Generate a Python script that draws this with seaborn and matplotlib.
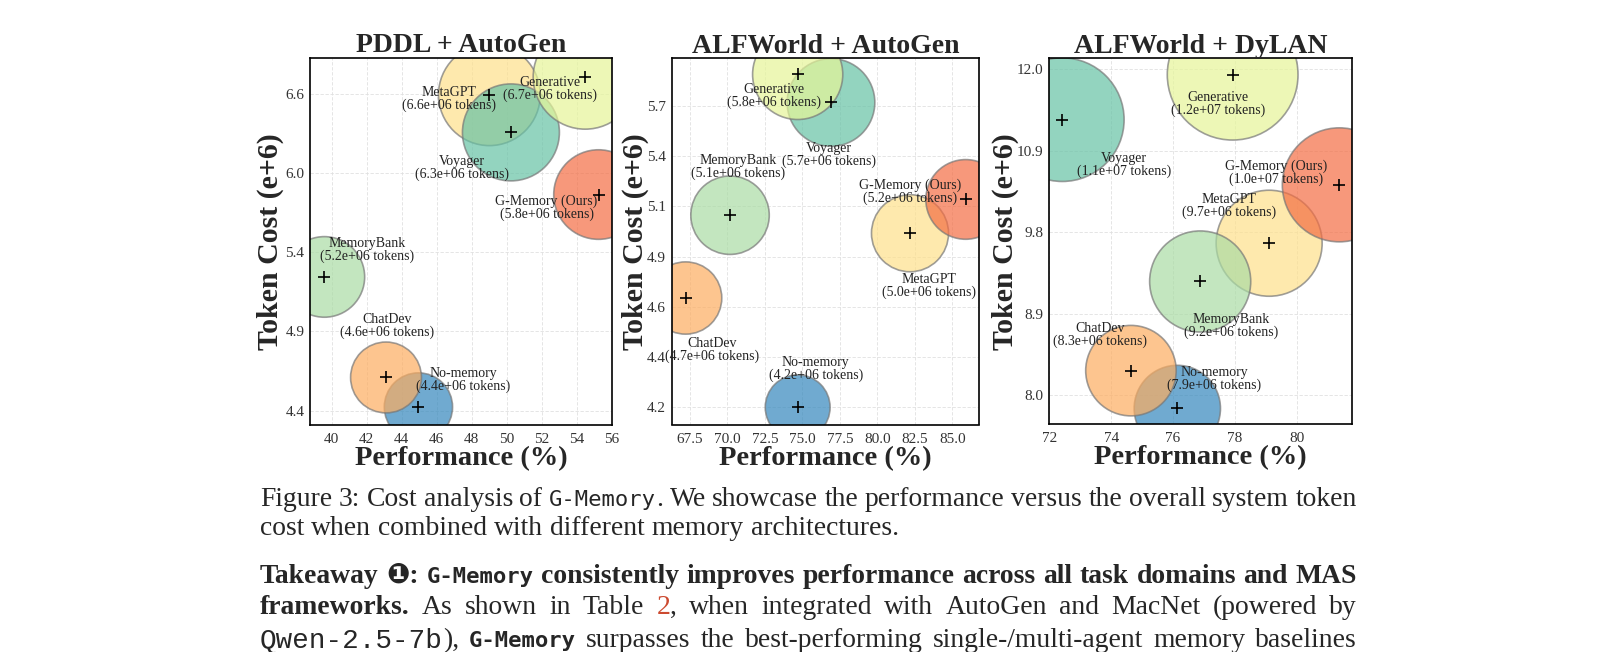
import numpy as np
import pandas as pd
import seaborn as sns
import matplotlib
matplotlib.use("Agg")
from matplotlib import pyplot as plt
from matplotlib.ticker import MultipleLocator, NullLocator, NullFormatter
from matplotlib.transforms import IdentityTransform

# ---- data ---------------------------------------------------------------
methods = ["No-memory", "ChatDev", "MetaGPT", "MemoryBank", "Voyager", "Generative", "G-Memory (Ours)"]

panel_titles = ["PDDL + AutoGen", "ALFWorld + AutoGen", "ALFWorld + DyLAN"]

# performance (%) and token cost (e+6), same order as methods
pddl_autogen_perf = [44.95, 43.10, 49.00, 39.58, 50.23, 54.47, 55.23]
pddl_autogen_cost = [4.42, 4.59, 6.59, 5.22, 6.28, 6.74, 5.80]

alfworld_autogen_perf = [74.68, 67.21, 82.17, 70.17, 76.90, 74.68, 85.88]
alfworld_autogen_cost = [4.20, 4.68, 4.99, 5.08, 5.68, 5.84, 5.16]

alfworld_dylan_perf = [76.14, 74.64, 79.11, 76.88, 72.42, 77.93, 81.38]
alfworld_dylan_cost = [7.89, 8.27, 9.69, 9.24, 11.30, 11.95, 10.42]

# y ticks are log spaced between these values (first, last, count)
ytick_ranges = [(4.4, 6.6, 5), (4.2, 5.66, 7), (8.02, 12.03, 5)]
xtick_steps = [2, 2.5, 2]

caption_lines = [
    [("Figure 3: Cost analysis of ", "rm"), ("G-Memory", "tt"),
     (". We showcase the performance versus the overall system token", "rm")],
    [("cost when combined with different memory architectures.", "rm")],
    [("Takeaway \u2776: ", "bf"), ("G-Memory", "ttbf"),
     (" consistently improves performance across all task domains and MAS", "bf")],
    [("frameworks.", "bf"), ("  As shown in Table ", "rm"), ("2", "ref"),
     (", when integrated with AutoGen and MacNet (powered by", "rm")],
    [("Qwen-2.5-7b", "tt2"), ("), ", "rm"), ("G-Memory", "ttbf"),
     (" surpasses the best-performing single-/multi-agent memory baselines", "rm")],
]

# ---- layout / style -----------------------------------------------------
W, H = 1618, 652
axes_px = [(310, 58, 612, 424.5), (671.7, 58.3, 979, 424.5), (1048.7, 58.3, 1352.3, 424)]
xlims = [(38.76, 56.0), (66.28, 86.77), (71.98, 81.80)]
ylims = [(4.322, 6.907), (4.129, 5.934), (7.739, 12.196)]
bubble_px_per_unit = [7.72, 7.72, 5.47]
ylabel_x = [-0.132, -0.119, -0.144]

# label offsets from the point, in pixels (dx, dy downwards), order = methods
label_offsets = [
    [(45, -27), (1, -51), (-40, 4), (43, -27), (-49, 36), (-35, 12), (-52, 13)],
    [(18, -38), (26, 52), (19, 53), (8, -48), (-2, 53), (-24, 22), (-56, -8)],
    [(37, -29), (-31, -36), (-40, -37), (31, 45), (62, 45), (-15, 29), (-63, -12)],
]

spectral = sns.color_palette("Spectral", 9)
method_colors = dict(zip(methods, [spectral[i] for i in [8, 2, 3, 6, 7, 5, 1]]))

sns.set_style("white")
plt.rcParams["font.family"] = ["Liberation Serif", "DejaVu Sans"]

fig = plt.figure(figsize=(W / 100, H / 100), dpi=100)

panels = [
    (pddl_autogen_perf, pddl_autogen_cost),
    (alfworld_autogen_perf, alfworld_autogen_cost),
    (alfworld_dylan_perf, alfworld_dylan_cost),
]

for i, (perf, cost) in enumerate(panels):
    l, t, r, b = axes_px[i]
    ax = fig.add_axes([l / W, 1 - b / H, (r - l) / W, (b - t) / H])
    df = pd.DataFrame({"method": methods, "perf": perf, "cost": cost})
    sizes = {m: (2 * bubble_px_per_unit[i] * c * 0.72) ** 2 for m, c in zip(methods, cost)}

    sns.scatterplot(data=df, x="perf", y="cost", hue="method", palette=method_colors,
                    size="method", sizes=sizes, alpha=0.7, edgecolor="#777777",
                    linewidth=1.2, legend=False, ax=ax, zorder=2)
    sns.scatterplot(data=df, x="perf", y="cost", marker="+", color="black", s=70,
                    linewidth=1.2, legend=False, ax=ax, zorder=4)

    for j, row in df.iterrows():
        dx, dy = label_offsets[i][j]
        ax.annotate(f"{row['method']}\n({row['cost'] * 1e6:.1e} tokens)",
                    (row["perf"], row["cost"]), xytext=(dx, -dy), textcoords="offset pixels",
                    ha="center", va="center", fontsize=10, linespacing=0.95, color="#222222",
                    zorder=5)

    ax.set_yscale("log")
    lo, hi, n = ytick_ranges[i]
    yt = np.geomspace(lo, hi, n)
    ax.set_yticks(yt, labels=[f"{v:.1f}" for v in yt])
    ax.yaxis.set_minor_locator(NullLocator())
    ax.yaxis.set_minor_formatter(NullFormatter())
    ax.xaxis.set_major_locator(MultipleLocator(xtick_steps[i]))
    ax.set_xlim(*xlims[i])
    ax.set_ylim(*ylims[i])

    ax.grid(True, color="#e0e0e0", linestyle=(0, (4, 2)), linewidth=0.6)
    ax.set_axisbelow(True)
    ax.tick_params(axis="both", length=0, labelsize=11, labelcolor="#333333")
    ax.tick_params(axis="x", pad=6)
    ax.tick_params(axis="y", pad=4)
    for sp in ax.spines.values():
        sp.set_color("black")
        sp.set_linewidth(1.2)

    ax.set_title(panel_titles[i], fontsize=20, fontweight="bold", pad=4)
    ax.set_xlabel("Performance (%)", fontsize=20.5, fontweight="bold", va="center")
    ax.set_ylabel("Token Cost (e+6)", fontsize=21.5, fontweight="bold", va="center")
    ax.xaxis.set_label_coords(0.5, -0.092)
    ax.yaxis.set_label_coords(ylabel_x[i], 0.5)

# ---- caption text, laid out word by word --------------------------------
body_pt = 19.9
styles = {
    "rm": dict(family=["Liberation Serif", "DejaVu Sans"], size=body_pt),
    "bf": dict(family=["Liberation Serif", "DejaVu Sans"], size=body_pt, weight="bold"),
    "ref": dict(family=["Liberation Serif"], size=body_pt, color="#cc4a30"),
    "tt": dict(family=["DejaVu Sans Mono"], size=16),
    "ttbf": dict(family=["DejaVu Sans Mono"], size=16, weight="bold"),
    "tt2": dict(family=["Liberation Mono"], size=body_pt),
}
baselines = [506, 535, 583, 614, 647]
justify = [True, False, True, True, True]
x_left, x_right = 260, 1357

renderer = fig.canvas.get_renderer()


def place_line(pieces, base, just):
    words, cur = [], []
    for text, st in pieces:
        parts = text.split(" ")
        for k, p in enumerate(parts):
            if k > 0 and cur:
                words.append(cur)
                cur = []
            if p:
                cur.append((p, st))
    if cur:
        words.append(cur)

    items = []
    for w in words:
        frags, width = [], 0
        for p, st in w:
            t = fig.text(0, H - base, p, transform=IdentityTransform(), va="baseline", **styles[st])
            wd = t.get_window_extent(renderer).width
            frags.append((t, width))
            width += wd
        items.append((frags, width))

    total = sum(wd for _, wd in items)
    if just and len(items) > 1:
        gap = (x_right - x_left - total) / (len(items) - 1)
    else:
        gap = body_pt * 100 / 72 * 0.25
    x = x_left
    for frags, wd in items:
        for t, off in frags:
            t.set_x(x + off)
        x += wd + gap


for pieces, base, just in zip(caption_lines, baselines, justify):
    place_line(pieces, base, just)

fig.savefig("out.png", dpi=100)
